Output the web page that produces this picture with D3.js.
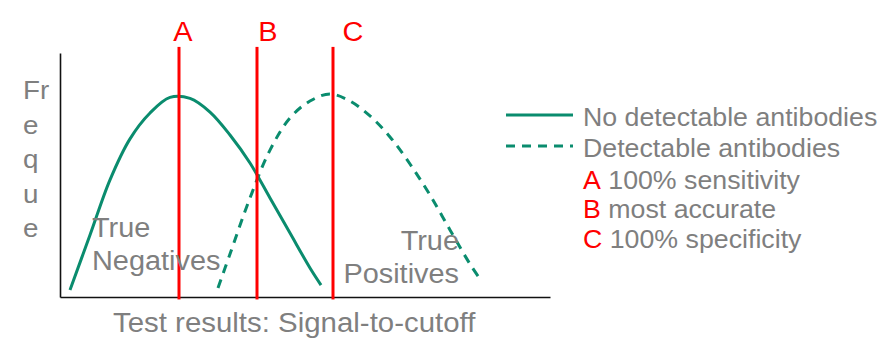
<!DOCTYPE html>
<html>
<head>
<meta charset="utf-8">
<script src="https://cdn.jsdelivr.net/npm/d3@7"></script>
<style>
  body { margin: 0; background: #fff; }
  svg { display: block; font-family: "Liberation Sans", Arial, sans-serif; }
</style>
</head>
<body>
<svg id="chart"></svg>
<script>
const width = 888;
const height = 352;

// curve without antibodies (solid)
const negX = [1, 3, 5, 7, 9, 11, 13, 15, 17, 19, 21, 23, 25, 26.1];
const negY = [0.29, 2.54, 4.8, 6.48, 7.54, 8.18, 8.14, 7.58, 6.64, 5.49, 4.06, 2.62, 1.19, 0.49];

// curve with antibodies (dashed)
const posX = [15.8, 17, 19, 21, 23, 25, 27, 29, 31, 33, 35, 37, 39, 41, 42];
const posY = [0.37, 1.76, 4.06, 6.02, 7.34, 8.03, 8.32, 8.03, 7.42, 6.56, 5.45, 4.18, 2.75, 1.35, 0.74];

const cutoffNames = ["A", "B", "C"];
const cutoffValues = [11.9, 19.7, 27.3];
const cutoffDescriptions = ["100% sensitivity", "most accurate", "100% specificity"];

const seriesNames = ["No detectable antibodies", "Detectable antibodies"];
const yLabelLines = ["Fr", "e", "q", "u", "e"];

const green = "#0a8c6e";
const red = "#ff0000";
const gray = "#7f7f7f";
const stretch = 1.07; // text in the picture is a bit wider than the font

const svg = d3.select("#chart").attr("width", width).attr("height", height);

const x = d3.scaleLinear().domain([0, 49]).range([60, 550]);
const y = d3.scaleLinear().domain([0, 10]).range([297, 53]);

function label(sel, tx, ty, size) {
  return sel
    .append("text")
    .attr("transform", `translate(${tx},${ty}) scale(${stretch},1)`)
    .attr("font-size", size)
    .attr("fill", gray);
}

// axes, only the domain lines
svg.append("g")
  .attr("transform", `translate(0,${y(0)})`)
  .call(d3.axisBottom(x).ticks(0).tickSizeOuter(0))
  .select(".domain").attr("stroke", "#111").attr("stroke-width", 1.6);

svg.append("g")
  .attr("transform", `translate(${x(0)},0)`)
  .call(d3.axisLeft(y).ticks(0).tickSizeOuter(0))
  .select(".domain").attr("stroke", "#111").attr("stroke-width", 1.6);

// curves
const line = d3.line()
  .x((d) => x(d[0]))
  .y((d) => y(d[1]))
  .curve(d3.curveCatmullRom.alpha(0.5));

svg.append("path")
  .datum(d3.zip(negX, negY))
  .attr("d", line)
  .attr("fill", "none")
  .attr("stroke", green)
  .attr("stroke-width", 3);

svg.append("path")
  .datum(d3.zip(posX, posY))
  .attr("d", line)
  .attr("fill", "none")
  .attr("stroke", green)
  .attr("stroke-width", 3)
  .attr("stroke-dasharray", "9,7");

// cutoff lines
svg.selectAll(".cutoff")
  .data(cutoffValues)
  .enter()
  .append("line")
  .attr("class", "cutoff")
  .attr("x1", (d) => x(d))
  .attr("x2", (d) => x(d))
  .attr("y1", y(-0.1))
  .attr("y2", y(10.25))
  .attr("stroke", red)
  .attr("stroke-width", 3);

const labelShift = [4, 11, 20];
cutoffNames.forEach((name, i) => {
  label(svg, x(cutoffValues[i]) + labelShift[i], 41, 27)
    .attr("text-anchor", "middle")
    .attr("fill", red)
    .text(name);
});

// area labels
label(svg, 92, 237, 27).text("True");
label(svg, 92, 270, 27).text("Negatives");
label(svg, 459, 250, 27).attr("text-anchor", "end").text("True");
label(svg, 459, 283, 27).attr("text-anchor", "end").text("Positives");

// axis titles
label(svg, 113, 332, 27.5).text("Test results: Signal-to-cutoff");
yLabelLines.forEach((t, i) => {
  label(svg, 23, 99 + i * 34.5, 26).text(t);
});

// legend
const legendRows = [126, 157, 189, 218, 248];
seriesNames.forEach((name, i) => {
  svg.append("line")
    .attr("x1", 506)
    .attr("x2", 573)
    .attr("y1", legendRows[i] - 11)
    .attr("y2", legendRows[i] - 11)
    .attr("stroke", green)
    .attr("stroke-width", 3)
    .attr("stroke-dasharray", i === 1 ? "9,7" : null);
  label(svg, 583, legendRows[i], 25).text(name);
});

cutoffNames.forEach((name, i) => {
  const t = label(svg, 583, legendRows[i + 2], 25);
  t.append("tspan").attr("fill", red).text(name);
  t.append("tspan").text(" " + cutoffDescriptions[i]);
});
</script>
</body>
</html>
